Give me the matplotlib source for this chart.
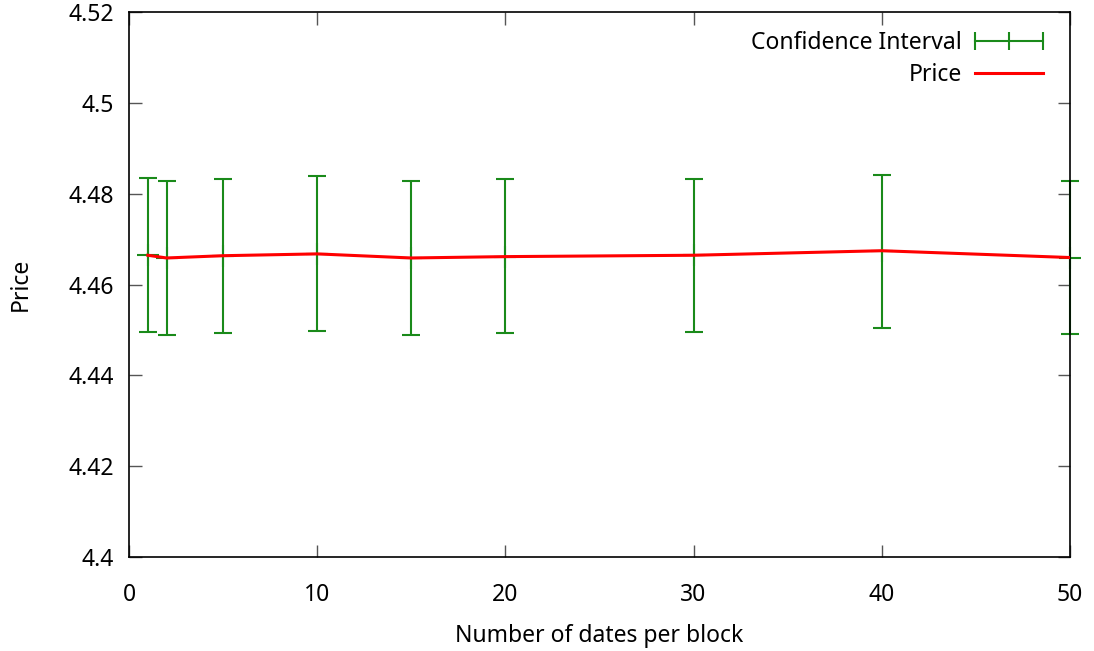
import numpy as np
import matplotlib.pyplot as plt
from matplotlib.lines import Line2D

# values
dates_per_block = [1, 2, 5, 10, 15, 20, 30, 40, 50]
price = [4.4665, 4.4659, 4.4664, 4.4668, 4.4659, 4.4662, 4.4665, 4.4675, 4.4660]
ci_upper = [4.4835, 4.4829, 4.4833, 4.4839, 4.4829, 4.4833, 4.4833, 4.4841, 4.4829]
ci_lower = [4.4496, 4.4490, 4.4494, 4.4498, 4.4490, 4.4493, 4.4496, 4.4505, 4.4492]

plt.rcParams['font.family'] = ['Noto Sans', 'DejaVu Sans']
fs = 16.5

fig = plt.figure(figsize=(10.94, 6.51), dpi=100)
ax = fig.add_axes([0.1179, 0.1444, 0.8601, 0.8364])

price = np.array(price)
yerr = [price - np.array(ci_lower), np.array(ci_upper) - price]

# error bars with gnuplot-like "+" points
ax.errorbar(dates_per_block, price, yerr=yerr, fmt='none', ecolor='#1a8a1a',
            elinewidth=1.5, capsize=6.5, capthick=1.5, clip_on=False, zorder=2)
ax.plot(dates_per_block, price, linestyle='none', marker='+', markersize=16,
        markeredgewidth=1.5, color='#1a8a1a', clip_on=False, zorder=2)
ax.plot(dates_per_block, price, color='red', lw=2.2, zorder=3)

ax.set_xlim(0, 50)
ax.set_ylim(4.4, 4.52)
ax.set_xticks([0, 10, 20, 30, 40, 50])
ax.set_yticks([4.4, 4.42, 4.44, 4.46, 4.48, 4.5, 4.52])
ax.set_yticklabels(['4.4', '4.42', '4.44', '4.46', '4.48', '4.5', '4.52'])
ax.tick_params(direction='in', length=9, width=1, color='#555555',
               top=True, right=True, labelsize=fs)
ax.tick_params(axis='x', pad=19)
ax.tick_params(axis='y', pad=11)
for s in ax.spines.values():
    s.set_linewidth(1.2)

ax.set_xlabel('Number of dates per block', fontsize=fs, labelpad=12)
ax.set_ylabel('Price', fontsize=fs)
ax.yaxis.set_label_coords(-0.102, 0.5)

ci_handle = Line2D([], [], color='#1a8a1a', lw=1.5, marker='|',
                   markersize=13, markeredgewidth=1.5)
price_handle = Line2D([], [], color='red', lw=2.2)
leg = ax.legend([ci_handle, price_handle], ['Confidence Interval', 'Price'],
                loc='upper right', bbox_to_anchor=(0.988, 0.9825), frameon=False,
                fontsize=fs, numpoints=3, markerfirst=False, handlelength=3.57,
                handletextpad=0.26, labelspacing=0.35, borderaxespad=0)
for t in leg.get_texts():
    t.set_ha('right')

fig.savefig('out.png', dpi=100)
